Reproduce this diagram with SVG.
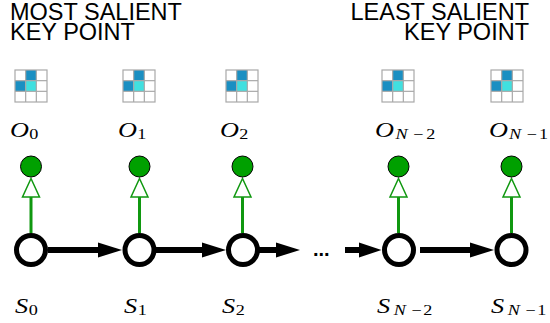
<svg xmlns="http://www.w3.org/2000/svg" xmlns:xlink="http://www.w3.org/1999/xlink" width="550" height="323" viewBox="0 0 550 323">
<style>
.hdr{font-family:"Liberation Sans",Arial,sans-serif;font-size:23.5px;fill:#000}
.math{font-family:"Liberation Serif","Times New Roman",serif;font-style:italic;font-size:21px;fill:#000}
.sub{font-size:14.5px}
.up{font-style:normal}
.state{fill:#fff;stroke:#000;stroke-width:5}
.obs{fill:#00a000;stroke:#000;stroke-width:1}
.emit{stroke:#109810;stroke-width:3;fill:none}
.emithead{fill:#fff;stroke:#109810;stroke-width:1.5}
.trans{stroke:#000;stroke-width:6;fill:none}
.dots{font-family:"Liberation Sans",Arial,sans-serif;font-weight:bold;font-size:20px;fill:#000}
</style>
<defs>
<g id="grid">
<rect x="0" y="0" width="32" height="32" fill="#fff"/>
<rect x="10.67" y="0" width="10.67" height="10.67" fill="#1a8fc2"/>
<rect x="0" y="10.67" width="10.67" height="10.67" fill="#1a8fc2"/>
<rect x="10.67" y="10.67" width="10.67" height="10.67" fill="#40e0e0"/>
<g stroke="#a8a8a8" stroke-width="1.2" fill="none">
<rect x="0" y="0" width="32" height="32"/>
<line x1="10.67" y1="0" x2="10.67" y2="32"/>
<line x1="21.33" y1="0" x2="21.33" y2="32"/>
<line x1="0" y1="10.67" x2="32" y2="10.67"/>
<line x1="0" y1="21.33" x2="32" y2="21.33"/>
</g>
</g>
</defs>

<g id="title-left">
<text class="hdr"><tspan x="10" y="20">MOST SALIENT</tspan><tspan x="10" y="40">KEY POINT</tspan></text>
</g>
<g id="title-right">
<text class="hdr" text-anchor="end"><tspan x="529" y="20">LEAST SALIENT</tspan><tspan x="529" y="40">KEY POINT</tspan></text>
</g>

<g id="grids">
<use xlink:href="#grid" href="#grid" x="15" y="70"/>
<use xlink:href="#grid" href="#grid" x="123" y="70"/>
<use xlink:href="#grid" href="#grid" x="226" y="70"/>
<use xlink:href="#grid" href="#grid" x="382" y="70"/>
<use xlink:href="#grid" href="#grid" x="491" y="70"/>
</g>

<g id="obs-labels">
<text class="math" transform="translate(10,136.5) scale(1.25,1)" x="0" y="0">O<tspan class="sub up" x="15.5" dy="2">0</tspan></text>
<text class="math" transform="translate(118,136.5) scale(1.25,1)" x="0" y="0">O<tspan class="sub up" x="15.5" dy="2">1</tspan></text>
<text class="math" transform="translate(220,136.5) scale(1.25,1)" x="0" y="0">O<tspan class="sub up" x="15.5" dy="2">2</tspan></text>
<text class="math" transform="translate(375,136.5) scale(1.25,1)" x="0" y="0">O<tspan class="sub" x="16.5" dy="2">N</tspan><tspan class="sub up" x="30.5">−</tspan><tspan class="sub up" x="41">2</tspan></text>
<text class="math" transform="translate(489,136.5) scale(1.25,1)" x="0" y="0">O<tspan class="sub" x="16" dy="2">N</tspan><tspan class="sub up" x="30">−</tspan><tspan class="sub up" x="40">1</tspan></text>
</g>

<g id="connectors">
<g id="emissions">
<line class="emit" x1="31" y1="233" x2="31" y2="196"/>
<polygon class="emithead" points="31,178.5 22.5,197 39.5,197"/>
<line class="emit" x1="139.5" y1="233" x2="139.5" y2="196"/>
<polygon class="emithead" points="139.5,178.5 131,197 148,197"/>
<line class="emit" x1="242.5" y1="233" x2="242.5" y2="196"/>
<polygon class="emithead" points="242.5,178.5 234,197 251,197"/>
<line class="emit" x1="398.5" y1="233" x2="398.5" y2="196"/>
<polygon class="emithead" points="398.5,178.5 390,197 407,197"/>
<line class="emit" x1="511.5" y1="233" x2="511.5" y2="196"/>
<polygon class="emithead" points="511.5,178.5 503,197 520,197"/>
</g>
<g id="transitions">
<line class="trans" x1="48" y1="250" x2="100" y2="250"/>
<polygon points="122,250 98,242.5 98,257.5" fill="#000"/>
<line class="trans" x1="156" y1="250" x2="204" y2="250"/>
<polygon points="226,250 202,242.5 202,257.5" fill="#000"/>
<line class="trans" x1="259" y1="250" x2="278" y2="250"/>
<polygon points="300,250 276,242.5 276,257.5" fill="#000"/>
<line class="trans" x1="345" y1="250" x2="361" y2="250"/>
<polygon points="381.5,250 359,242.5 359,257.5" fill="#000"/>
<line class="trans" x1="420" y1="250" x2="472" y2="250"/>
<polygon points="494,250 470,242.5 470,257.5" fill="#000"/>
</g>
</g>
<text class="dots" x="313" y="256">...</text>

<g id="O0"><circle class="obs" cx="31" cy="166.5" r="10.5"/></g>
<g id="O1"><circle class="obs" cx="139.5" cy="166.5" r="10.5"/></g>
<g id="O2"><circle class="obs" cx="242.5" cy="166.5" r="10.5"/></g>
<g id="ON2"><circle class="obs" cx="398.5" cy="166.5" r="10.5"/></g>
<g id="ON1"><circle class="obs" cx="511.5" cy="166.5" r="10.5"/></g>

<g id="S0"><circle class="state" cx="31" cy="250" r="14.5"/></g>
<g id="S1"><circle class="state" cx="139.5" cy="250" r="14.5"/></g>
<g id="S2"><circle class="state" cx="243" cy="250" r="14.5"/></g>
<g id="SN2"><circle class="state" cx="399" cy="250" r="14.5"/></g>
<g id="SN1"><circle class="state" cx="511.5" cy="250" r="14.5"/></g>

<g id="state-labels">
<text class="math" transform="translate(15,312.5) scale(1.25,1)" x="0" y="0">S<tspan class="sub up" x="11" dy="2.5">0</tspan></text>
<text class="math" transform="translate(124,312.5) scale(1.25,1)" x="0" y="0">S<tspan class="sub up" x="11" dy="2.5">1</tspan></text>
<text class="math" transform="translate(222,312.5) scale(1.25,1)" x="0" y="0">S<tspan class="sub up" x="11" dy="2.5">2</tspan></text>
<text class="math" transform="translate(377,312.5) scale(1.25,1)" x="0" y="0">S<tspan class="sub" x="13.5" dy="2.5">N</tspan><tspan class="sub up" x="27.5">−</tspan><tspan class="sub up" x="37">2</tspan></text>
<text class="math" transform="translate(491,312.5) scale(1.25,1)" x="0" y="0">S<tspan class="sub" x="13.5" dy="2.5">N</tspan><tspan class="sub up" x="27.5">−</tspan><tspan class="sub up" x="37">1</tspan></text>
</g>
</svg>
